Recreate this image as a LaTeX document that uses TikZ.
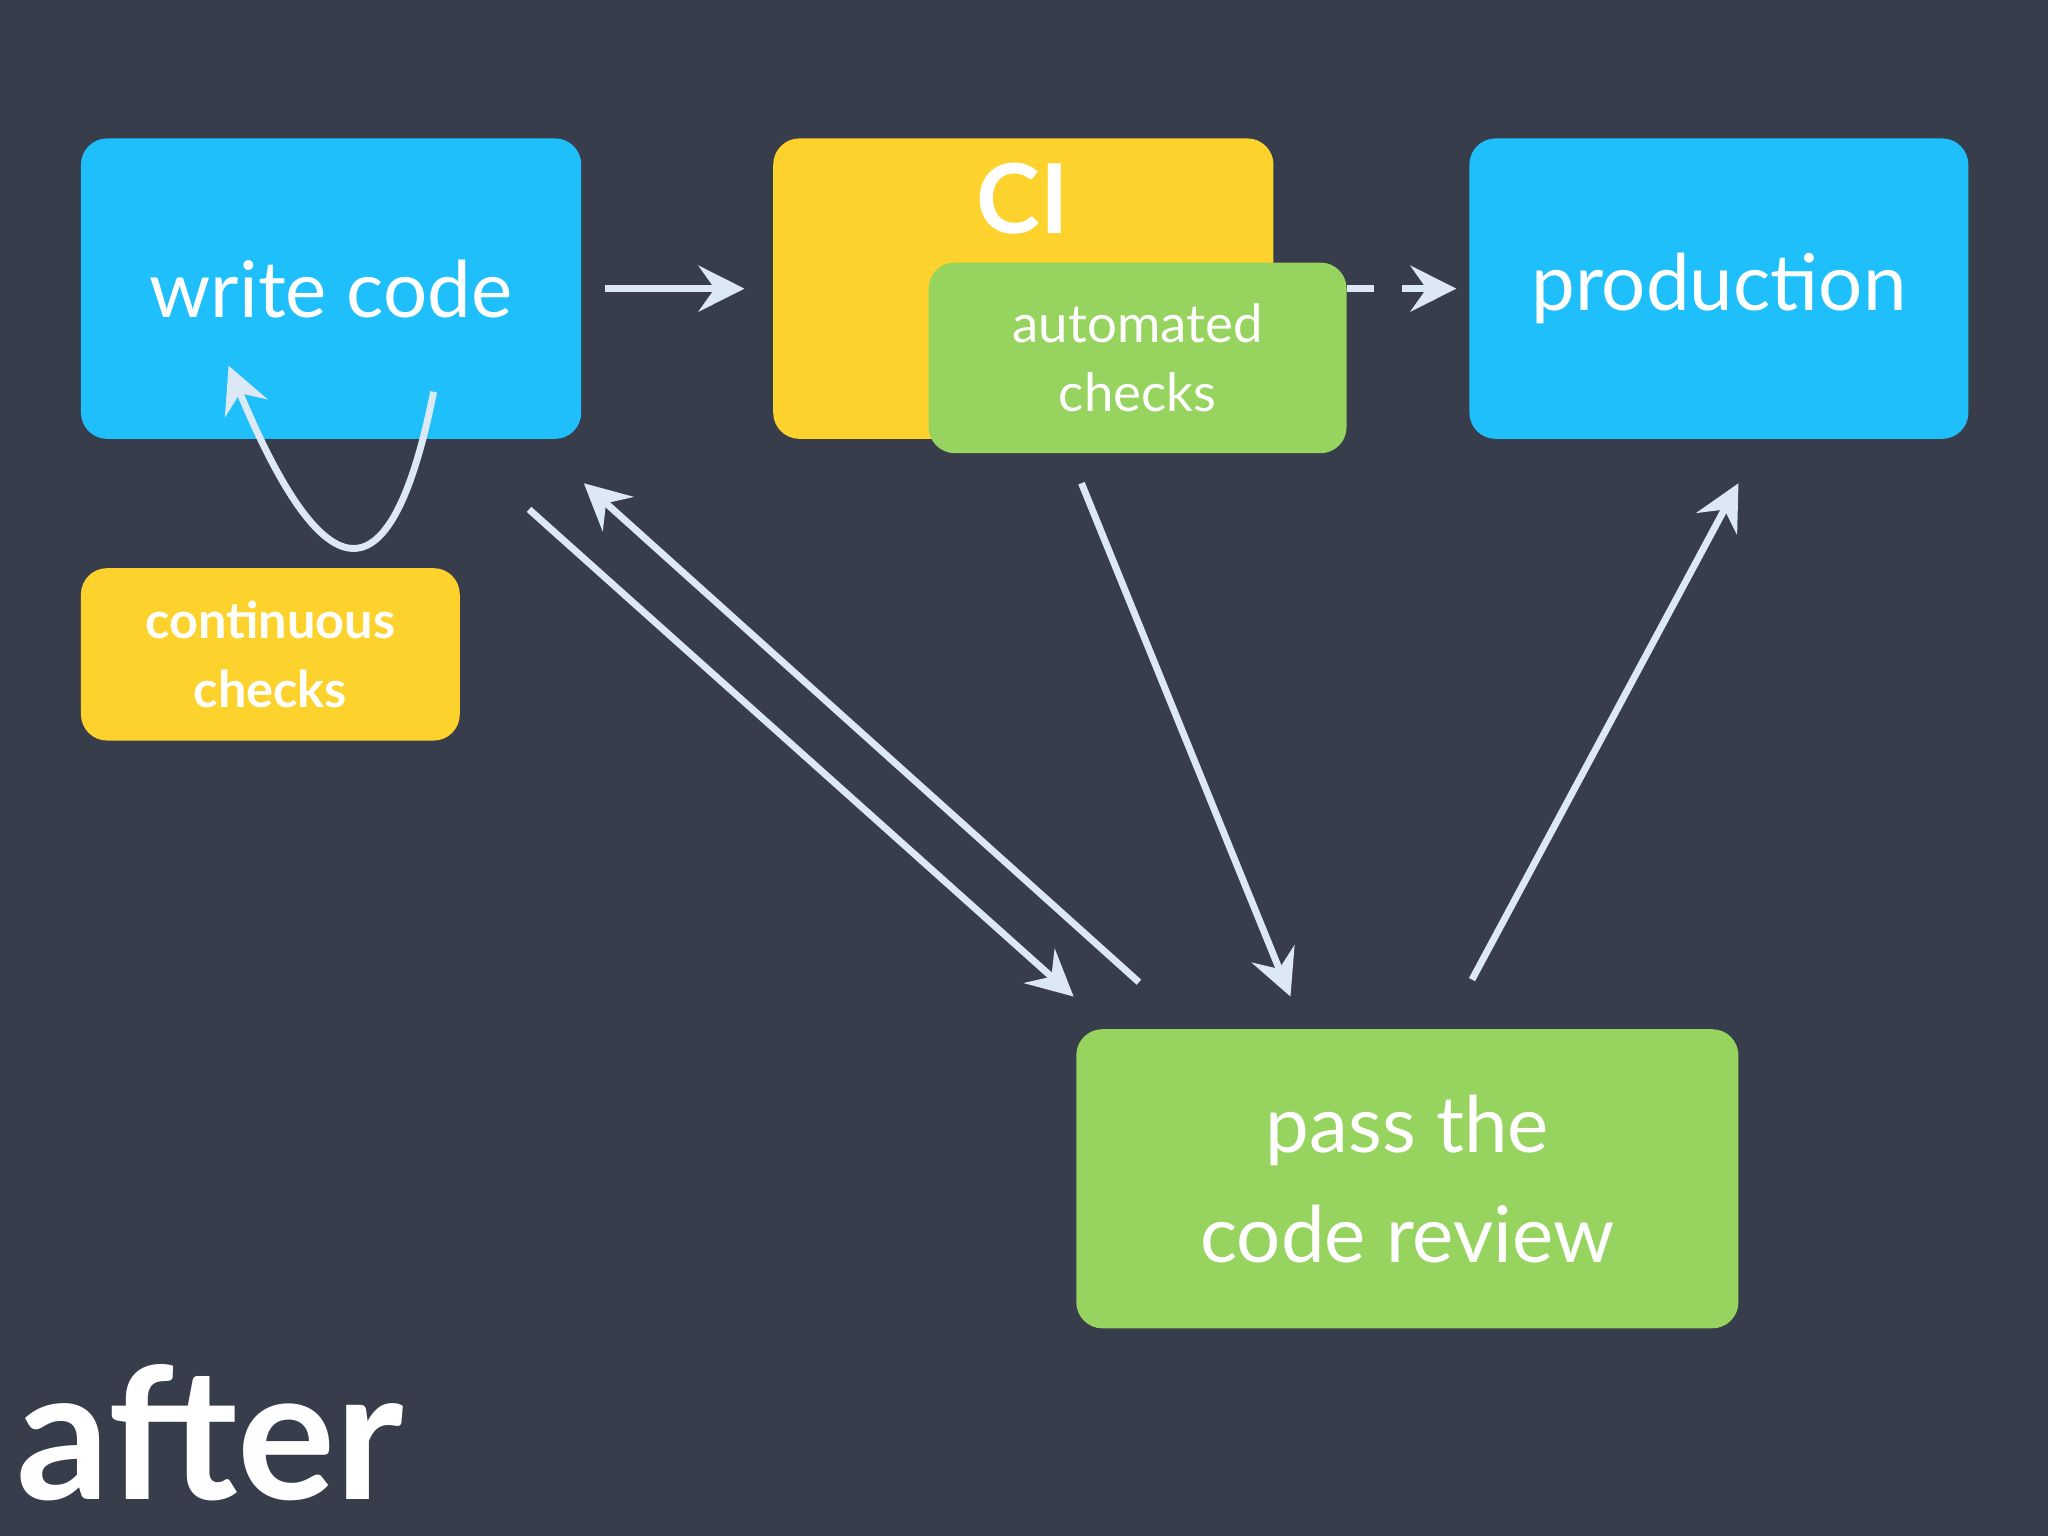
\documentclass[tikz,border=0pt]{standalone}
\usepackage{fontspec}
\setmainfont{Lato}
\usetikzlibrary{arrows.meta}
\definecolor{bg}{HTML}{383D4B}
\definecolor{cblue}{HTML}{1FBFFB}
\definecolor{cyel}{HTML}{FED22C}
\definecolor{cgreen}{HTML}{97D35F}
\definecolor{carr}{HTML}{DDE8F5}
\tikzset{
 box/.style={rounded corners=0.2cm, inner sep=0pt, align=center, text=white},
 arr/.style={draw=carr, line width=1.5pt, -{Stealth[length=10pt,width=10pt,inset=3.5pt]}},
 big/.style={font=\fontsize{17}{24}\selectfont},
}
\begin{document}
\begin{tikzpicture}
\fill[bg] (0,0) rectangle (15.68,-11.76);
\useasboundingbox (0,0) rectangle (15.68,-11.76);
\node[box, big, fill=cblue, minimum width=3.83cm, minimum height=2.30cm] (wc) at (2.535,-2.21) {write code};
\node[box, fill=cyel, minimum width=3.83cm, minimum height=2.30cm] (ci) at (7.835,-2.21) {};
\node[text=white, font=\bfseries\fontsize{21}{24}\selectfont] (cil) at (7.83,-1.52) {CI};
\node[box, fill=cgreen, minimum width=3.20cm, minimum height=1.46cm, font=\fontsize{11.5}{15}\selectfont] (ac) at (8.71,-2.74) {automated\\checks};
\node[box, big, fill=cblue, minimum width=3.82cm, minimum height=2.30cm] (pr) at (13.16,-2.21) {production};
\node[box, fill=cyel, minimum width=2.90cm, minimum height=1.32cm, font=\bfseries\fontsize{11}{15}\selectfont] (cc) at (2.07,-5.01) {continuous\\checks};
\node[box, fill=cgreen, minimum width=5.07cm, minimum height=2.29cm, font=\fontsize{17}{24}\selectfont] (rv) at (10.775,-9.025) {pass the\\code review};
\node[text=white, font=\bfseries\fontsize{40}{44}\selectfont, anchor=base west, inner sep=0pt] (af) at (0.12,-11.48) {after};
% connector endpoints
\coordinate (a1) at (4.63,-2.21); \coordinate (a2) at (5.70,-2.21);
\coordinate (d1) at (10.31,-2.21); \coordinate (d2) at (11.15,-2.21);
\coordinate (l1) at (3.32,-3.00); \coordinate (l2) at (1.75,-2.80);
\coordinate (b1) at (4.05,-3.90); \coordinate (b2) at (8.22,-7.63);
\coordinate (c1) at (8.72,-7.52); \coordinate (c2) at (4.47,-3.70);
\coordinate (e1) at (8.28,-3.70); \coordinate (e2) at (9.88,-7.63);
\coordinate (f1) at (11.27,-7.50); \coordinate (f2) at (13.31,-3.70);
\draw[arr] (a1) -- (a2);
\draw[arr, dash pattern=on 6pt off 6pt] (d1) -- (d2);
\draw[arr] (l1) .. controls (3.0,-4.6) and (2.5,-4.6) .. (l2);
\draw[arr] (b1) -- (b2);
\draw[arr] (c1) -- (c2);
\draw[arr] (e1) -- (e2);
\draw[arr] (f1) -- (f2);
\end{tikzpicture}
\end{document}
